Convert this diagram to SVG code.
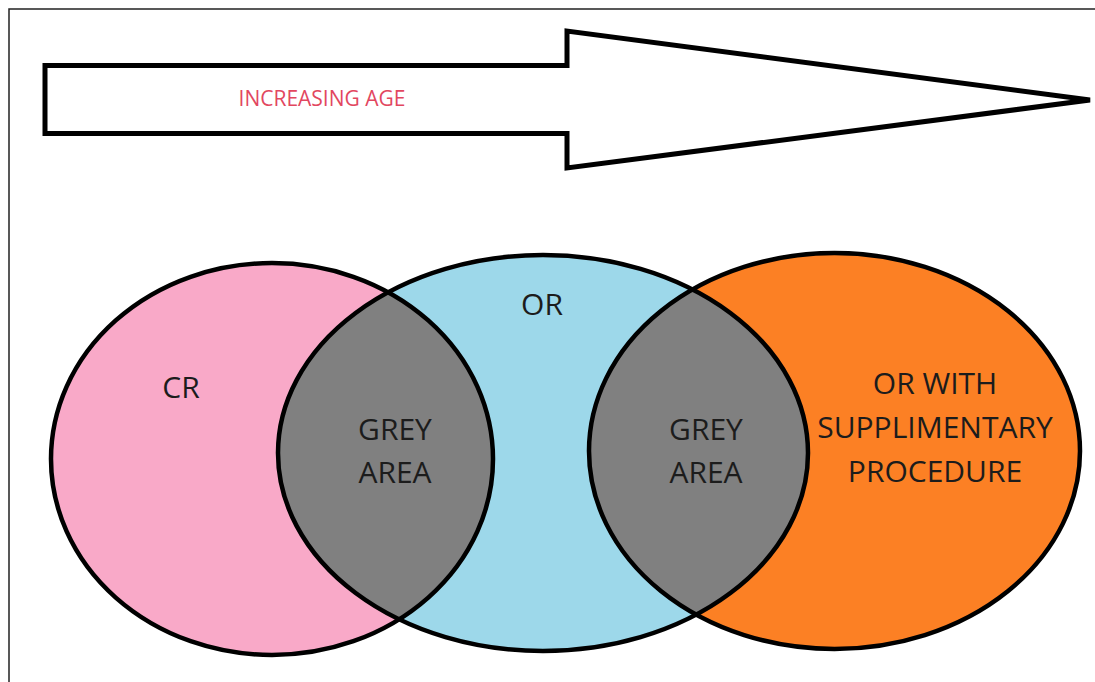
<svg xmlns="http://www.w3.org/2000/svg" width="1095" height="682" viewBox="0 0 1095 682">
<style>
.ol{fill:none;stroke:#000;stroke-width:4.5}
.lbl{font-family:"Open Sans","Liberation Sans",sans-serif;font-size:30px;fill:#1c1c1c;text-anchor:middle}
.age{font-family:"Open Sans","Liberation Sans",sans-serif;font-size:21px;fill:#e2475f;text-anchor:middle}
</style>
<defs>
<clipPath id="cpPink"><ellipse cx="272" cy="459" rx="221" ry="196"/></clipPath>
<clipPath id="cpOrange"><ellipse cx="834.5" cy="451" rx="245.5" ry="198"/></clipPath>
</defs>
<rect width="1095" height="682" fill="#fff"/>
<path d="M9 682V9H1095" fill="none" stroke="#222" stroke-width="1.5"/>
<g id="arrow">
<polygon points="45,65.5 567,65.5 567,31 1090,100 567,168 567,133.5 45,133.5" fill="#fff" stroke="#000" stroke-width="5" stroke-linejoin="miter"/>
<text class="age" x="322" y="106">INCREASING AGE</text>
</g>
<g id="cr">
<ellipse cx="272" cy="459" rx="221" ry="196" fill="#f9a9c8"/>
</g>
<g id="or">
<ellipse cx="543" cy="453" rx="265" ry="198" fill="#9dd8ea"/>
</g>
<g id="orsupp">
<ellipse cx="834.5" cy="451" rx="245.5" ry="198" fill="#fc8024"/>
</g>
<g id="grey1">
<ellipse cx="543" cy="453" rx="265" ry="198" fill="#808080" clip-path="url(#cpPink)"/>
</g>
<g id="grey2">
<ellipse cx="543" cy="453" rx="265" ry="198" fill="#808080" clip-path="url(#cpOrange)"/>
</g>
<g id="outlines">
<ellipse class="ol" cx="272" cy="459" rx="221" ry="196"/>
<ellipse class="ol" cx="543" cy="453" rx="265" ry="198"/>
<ellipse class="ol" cx="834.5" cy="451" rx="245.5" ry="198"/>
</g>
<g id="labels">
<text class="lbl" x="181" y="398">CR</text>
<text class="lbl" x="542" y="315">OR</text>
<text class="lbl" x="395" y="440">GREY</text>
<text class="lbl" x="395" y="483">AREA</text>
<text class="lbl" x="706" y="440">GREY</text>
<text class="lbl" x="706" y="483">AREA</text>
<text class="lbl" x="935" y="394">OR WITH</text>
<text class="lbl" x="935" y="438">SUPPLIMENTARY</text>
<text class="lbl" x="935" y="482">PROCEDURE</text>
</g>
</svg>
